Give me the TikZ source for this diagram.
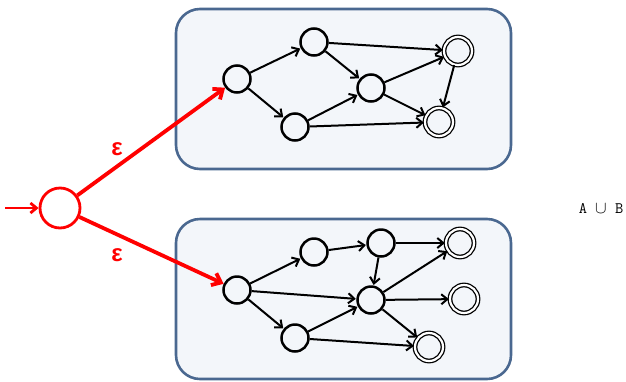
\documentclass[tikz,border=0pt]{standalone}
\usepackage{fontspec}
\newfontfamily\epsfont{Liberation Sans}
\usetikzlibrary{arrows.meta}
\definecolor{boxfill}{HTML}{F3F6FA}
\definecolor{boxline}{HTML}{4A6890}
\tikzset{
	nfa/.style={draw=boxline, line width=2.6pt, fill=boxfill, rounded corners=24pt},
	state/.style={circle, draw, line width=2.5pt, minimum size=27pt, inner sep=0pt},
	accept/.style={circle, draw, line width=1.3pt, double, double distance=2.2pt, minimum size=28pt, inner sep=0pt},
	trans/.style={-{Straight Barb[length=6pt, width=10pt]}, line width=2pt, shorten >=0.5pt},
	eps/.style={-{Straight Barb[length=8pt, width=13pt]}, red, line width=3.8pt},
	epslabel/.style={text=red, font=\epsfont\bfseries\fontsize{24}{24}\selectfont}
}
\begin{document}
\begin{tikzpicture}[x=1pt, y=-1pt]
		\useasboundingbox (0,0) rectangle (626,381);
		%boxes of the two automata
		\draw[nfa] (176,9) rectangle (511,169);
		\draw[nfa] (176,219) rectangle (511,379);
		
		%automaton A
		\node (a0) at (237,79) [state]{};
		\node (a1) at (314,42) [state]{};
		\node (a2) at (295,127) [state]{};
		\node (a3) at (371,88) [state]{};
		\node (a4) at (458,51) [accept]{};
		\node (a5) at (439,122) [accept]{};
		\draw[trans] (a0) -- (a1);
		\draw[trans] (a0) -- (a2);
		\draw[trans] (a1) -- (a3);
		\draw[trans] (a1) -- (a4);
		\draw[trans] (a2) -- (a3);
		\draw[trans] (a2) -- (a5);
		\draw[trans] (a3) -- (a4);
		\draw[trans] (a3) -- (a5);
		\draw[trans] (a4) -- (a5);
		
		%automaton B
		\node (b0) at (237,290) [state]{};
		\node (b1) at (314,252) [state]{};
		\node (b2) at (381,243) [state]{};
		\node (b3) at (371,300) [state]{};
		\node (b4) at (295,338) [state]{};
		\node (b5) at (460,243) [accept]{};
		\node (b6) at (464,299) [accept]{};
		\node (b7) at (429,347) [accept]{};
		\draw[trans] (b0) -- (b1);
		\draw[trans] (b0) -- (b3);
		\draw[trans] (b0) -- (b4);
		\draw[trans] (b1) -- (b2);
		\draw[trans] (b2) -- (b5);
		\draw[trans] (b2) -- (b3);
		\draw[trans] (b3) -- (b5);
		\draw[trans] (b3) -- (b6);
		\draw[trans] (b3) -- (b7);
		\draw[trans] (b4) -- (b3);
		\draw[trans] (b4) -- (b7);
		
		%new start state
		\coordinate (in) at (5,208);
		\node (s) at (60,208) [state, draw=red, line width=2.8pt, minimum size=40pt]{};
		\draw[eps, line width=2.8pt, -{Straight Barb[length=6pt, width=10pt]}] (in) -- (s);
		\draw[eps] (s) -- (a0);
		\draw[eps] (s) -- (b0);
		\node (e1) at (117,149) [epslabel]{ε};
		\node (e2) at (117,255) [epslabel]{ε};
		
		\node (u) at (601,208) {\ttfamily\fontsize{16}{16}\selectfont A $\cup$ B};
\end{tikzpicture}
\end{document}
